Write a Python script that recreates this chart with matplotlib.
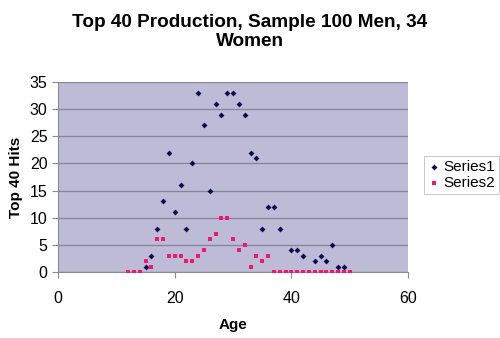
import matplotlib
matplotlib.use("Agg")
import matplotlib.pyplot as plt

plt.rcParams['font.family'] = ['Liberation Sans', 'DejaVu Sans']

# Series1 (blue diamonds)
ages1 = [15, 16, 17, 18, 19, 20, 21, 22, 23, 24, 25, 26, 27, 28, 29, 30, 31, 32,
         33, 34, 35, 36, 37, 38, 40, 41, 42, 44, 45, 46, 47, 48, 49]
hits1 = [1, 3, 8, 13, 22, 11, 16, 8, 20, 33, 27, 15, 31, 29, 33, 33, 31, 29,
         22, 21, 8, 12, 12, 8, 4, 4, 3, 2, 3, 2, 5, 1, 1]

# Series2 (pink squares)
ages2 = [12, 13, 14, 15, 16, 17, 18, 19, 20, 21, 22, 23, 24, 25, 26, 27, 28, 29,
         30, 31, 32, 33, 34, 35, 36, 37, 38, 39, 40, 41, 42, 43, 44, 45, 46, 47,
         48, 49, 50]
hits2 = [0, 0, 0, 2, 1, 6, 6, 3, 3, 3, 2, 2, 3, 4, 6, 7, 10, 10,
         6, 4, 5, 1, 3, 2, 3, 0, 0, 0, 0, 0, 0, 0, 0, 0, 0, 0,
         0, 0, 0]

fig = plt.figure(figsize=(5.0, 3.38), dpi=100)
ax = fig.add_axes([58 / 500, 1 - 272 / 338, 350 / 500, 190 / 338])
ax.set_facecolor('#bdbbd5')

ax.scatter(ages1, hits1, marker='D', s=9, color='#0a0a50', zorder=3, label='Series1',
           linewidths=0)
ax.scatter(ages2, hits2, marker='s', s=12, color='#f0186e', zorder=3, label='Series2',
           linewidths=0)

ax.set_xlim(0, 60)
ax.set_ylim(0, 35)
ax.set_xticks([0, 20, 40, 60])
ax.set_yticks(range(0, 36, 5))
ax.yaxis.grid(True, color='#85849a', linewidth=0.9)
ax.set_axisbelow(True)
for side in ['top', 'right']:
    ax.spines[side].set_visible(False)
ax.spines['left'].set_color('#8a8a98')
ax.spines['bottom'].set_color('#8a8a98')
ax.tick_params(colors='#8a8a98', labelcolor='black', labelsize=11.5, length=4, width=0.8)
ax.tick_params(axis='x', pad=10)

ax.set_xlabel('Age', fontsize=11, fontweight='bold', labelpad=8)
ax.set_ylabel('Top 40 Hits', fontsize=11, fontweight='bold', labelpad=5)

fig.suptitle('Top 40 Production, Sample 100 Men, 34\nWomen', fontsize=13.7,
             fontweight='bold', x=0.5, y=0.96, linespacing=1.2)

leg = fig.legend(loc='upper left', bbox_to_anchor=(424 / 500, 1 - 156 / 338),
                 fontsize=11, frameon=True, fancybox=False, handletextpad=0.2,
                 borderpad=0.25, labelspacing=0.15, markerscale=1.0,
                 handlelength=0.8, borderaxespad=0)
leg.get_frame().set_edgecolor('#b0b0b0')
leg.get_frame().set_linewidth(0.6)

fig.savefig('out.png', dpi=100)
